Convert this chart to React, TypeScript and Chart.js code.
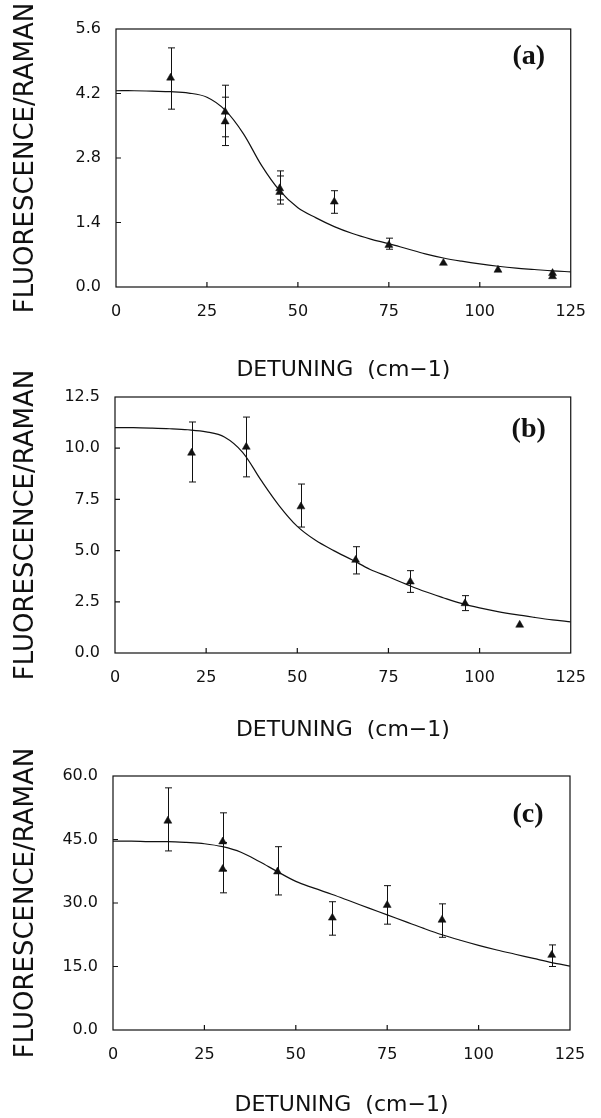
import React, { useEffect, useRef } from "react";
import { Chart, registerables } from "chart.js";

Chart.register(...registerables);

// ---------- data ----------
const curveX = [0, 5, 10, 15, 20, 25, 30, 35, 40, 45, 50, 55, 60, 65, 70, 75, 80, 85, 90, 95, 100, 105, 110, 115, 120, 125];

const curveA = [4.26, 4.26, 4.25, 4.24, 4.21, 4.12, 3.84, 3.33, 2.64, 2.09, 1.72, 1.5, 1.31, 1.16, 1.04, 0.94, 0.83, 0.72, 0.63, 0.56, 0.5, 0.45, 0.41, 0.38, 0.35, 0.33];
const curveB = [11.0, 11.0, 10.98, 10.95, 10.9, 10.8, 10.55, 9.8, 8.45, 7.2, 6.18, 5.5, 5.0, 4.55, 4.08, 3.72, 3.35, 3.0, 2.7, 2.42, 2.2, 2.02, 1.87, 1.74, 1.62, 1.52];
const curveC = [44.6, 44.6, 44.5, 44.5, 44.3, 44.0, 43.3, 42.0, 39.8, 37.4, 35.1, 33.5, 32.0, 30.4, 28.8, 27.2, 25.6, 24.0, 22.5, 21.2, 20.0, 18.9, 17.9, 16.9, 15.9, 15.1];

const ptsAx = [15, 30, 30, 45, 45, 60, 75, 90, 105, 120, 120];
const ptsAy = [4.54, 3.8, 3.59, 2.14, 2.06, 1.85, 0.91, 0.52, 0.37, 0.3, 0.23];
const errAlo = [3.86, 3.26, 3.07, 1.89, 1.8, 1.6, 0.82, null, null, null, null];
const errAhi = [5.19, 4.38, 4.12, 2.52, 2.41, 2.09, 1.06, null, null, null, null];

const ptsBx = [21, 36, 51, 66, 81, 96, 111];
const ptsBy = [9.77, 10.06, 7.15, 4.54, 3.48, 2.42, 1.37];
const errBlo = [8.35, 8.6, 6.15, 3.86, 2.96, 2.07, null];
const errBhi = [11.28, 11.52, 8.25, 5.19, 4.02, 2.8, null];

const ptsCx = [15, 30, 30, 45, 60, 75, 90, 120];
const ptsCy = [49.4, 44.5, 38.0, 37.4, 26.5, 29.5, 26.0, 17.7];
const errClo = [42.3, 37.7, 32.4, 31.9, 22.4, 25.0, 21.9, 15.0];
const errChi = [57.2, 51.3, 44.3, 43.3, 30.3, 34.1, 29.8, 20.1];

const xTicks = [0, 25, 50, 75, 100, 125];
const yTicksA = [0, 1.4, 2.8, 4.2, 5.6];
const yTicksB = [0, 2.5, 5.0, 7.5, 10.0, 12.5];
const yTicksC = [0, 15, 30, 45, 60];

const yTitle = "FLUORESCENCE/RAMAN";
const xTitle = "DETUNING  (cm\u22121)";

const INK = "#111";
const W = 601;
const H = 1118;

const framePlugin = {
  id: "frame",
  beforeDatasetsDraw(chart: any, _args: any, opts: any) {
    const { ctx, chartArea: a, scales } = chart;
    ctx.save();
    ctx.strokeStyle = INK;
    ctx.lineWidth = 1.2;
    ctx.strokeRect(a.left, a.top, a.right - a.left, a.bottom - a.top);
    // inward ticks
    ctx.beginPath();
    (opts.xTicks || []).forEach((v: number, i: number, arr: number[]) => {
      if (i === 0 || i === arr.length - 1) return;
      const px = scales.x.getPixelForValue(v);
      ctx.moveTo(px, a.bottom);
      ctx.lineTo(px, a.bottom - 5);
    });
    (opts.yTicks || []).forEach((v: number, i: number, arr: number[]) => {
      if (i === 0 || i === arr.length - 1) return;
      const py = scales.y.getPixelForValue(v);
      ctx.moveTo(a.left, py);
      ctx.lineTo(a.left + 5, py);
    });
    ctx.stroke();
    // error bars
    ctx.lineWidth = 1;
    ctx.beginPath();
    const xs = opts.px || [];
    xs.forEach((xv: number, i: number) => {
      const lo = opts.lo[i];
      const hi = opts.hi[i];
      if (lo == null || hi == null) return;
      const px = Math.round(scales.x.getPixelForValue(xv)) + 0.5;
      const pl = scales.y.getPixelForValue(lo);
      const ph = scales.y.getPixelForValue(hi);
      ctx.moveTo(px, pl);
      ctx.lineTo(px, ph);
      ctx.moveTo(px - 3.5, pl);
      ctx.lineTo(px + 3.5, pl);
      ctx.moveTo(px - 3.5, ph);
      ctx.lineTo(px + 3.5, ph);
    });
    ctx.stroke();
    ctx.restore();
  },
  afterDatasetsDraw(chart: any, _args: any, opts: any) {
    const { ctx, chartArea: a } = chart;
    if (!opts.label) return;
    ctx.save();
    ctx.fillStyle = INK;
    ctx.font = "bold 28px 'Liberation Serif', 'Times New Roman', serif";
    ctx.textAlign = "center";
    ctx.textBaseline = "middle";
    ctx.fillText(opts.label, a.right - 42, a.top + opts.labelDy);
    ctx.restore();
  },
};

type PanelProps = {
  padTop: number;
  padBottom: number;
  padRight: number;
  yW: number;
  xH: number;
  titlePadBottom: number;
  curve: number[];
  px: number[];
  py: number[];
  lo: (number | null)[];
  hi: (number | null)[];
  yTicks: number[];
  label: string;
  labelDy: number;
};

function Panel(p: PanelProps) {
  const ref = useRef<HTMLCanvasElement | null>(null);
  useEffect(() => {
    if (!ref.current) return;
    const yMax = p.yTicks[p.yTicks.length - 1];
    const chart = new Chart(ref.current, {
      type: "scatter",
      data: {
        datasets: [
          {
            label: "fit",
            data: curveX.map((x, i) => ({ x, y: p.curve[i] })),
            showLine: true,
            borderColor: INK,
            borderWidth: 1.2,
            pointRadius: 0,
            tension: 0.35,
            fill: false,
          } as any,
          {
            label: "data",
            data: p.px.map((x, i) => ({ x, y: p.py[i] })),
            pointStyle: "triangle",
            pointRadius: 4.6,
            backgroundColor: INK,
            borderColor: INK,
            borderWidth: 0.5,
          } as any,
        ],
      },
      options: {
        animation: false,
        responsive: false,
        layout: { padding: { top: p.padTop, right: p.padRight, left: 0, bottom: p.padBottom } },
        plugins: {
          legend: { display: false },
          tooltip: { enabled: false },
          frame: { xTicks, yTicks: p.yTicks, px: p.px, lo: p.lo, hi: p.hi, label: p.label, labelDy: p.labelDy },
        } as any,
        scales: {
          x: {
            type: "linear",
            min: 0,
            max: 125,
            grid: { display: false, drawTicks: false },
            border: { display: false },
            afterBuildTicks: (s: any) => {
              s.ticks = xTicks.map((v) => ({ value: v }));
            },
            afterFit: (s: any) => {
              s.height = p.xH;
            },
            ticks: {
              color: INK,
              padding: 15,
              maxRotation: 0,
              font: { family: "'DejaVu Sans', sans-serif", size: 16 },
              callback: (v: any) => String(v),
            },
            title: {
              display: true,
              text: xTitle,
              color: INK,
              font: { family: "'DejaVu Sans', sans-serif", size: 22 },
              padding: { top: 0, bottom: p.titlePadBottom },
            },
          },
          y: {
            type: "linear",
            min: 0,
            max: yMax,
            grid: { display: false, drawTicks: false },
            border: { display: false },
            afterBuildTicks: (s: any) => {
              s.ticks = p.yTicks.map((v) => ({ value: v }));
            },
            afterFit: (s: any) => {
              s.width = p.yW;
            },
            ticks: {
              color: INK,
              padding: 15,
              font: { family: "'DejaVu Sans', sans-serif", size: 16 },
              callback: (v: any) => Number(v).toFixed(1),
            },
            title: {
              display: true,
              text: yTitle,
              color: INK,
              font: { family: "'DejaVu Sans', sans-serif", size: 26 },
              padding: { top: 11, bottom: 0 },
            },
          },
        },
      },
      plugins: [framePlugin as any],
    });
    return () => chart.destroy();
  }, []);
  return (
    <canvas
      ref={ref}
      width={W}
      height={H}
      style={{ position: "absolute", left: 0, top: 0, width: W, height: H, display: "block" }}
    />
  );
}

export default function App() {
  return (
    <div style={{ position: "absolute", left: 0, top: 0, width: W, height: H, background: "#fff", overflow: "hidden" }}>
      <Panel padTop={29} padBottom={H - 385} padRight={28} yW={116} xH={98} titlePadBottom={2}
        curve={curveA} px={ptsAx} py={ptsAy} lo={errAlo} hi={errAhi} yTicks={yTicksA} label="(a)" labelDy={28} />
      <Panel padTop={397} padBottom={H - 745} padRight={29} yW={115} xH={92} titlePadBottom={2}
        curve={curveB} px={ptsBx} py={ptsBy} lo={errBlo} hi={errBhi} yTicks={yTicksB} label="(b)" labelDy={33} />
      <Panel padTop={776} padBottom={0} padRight={31} yW={113} xH={88} titlePadBottom={0}
        curve={curveC} px={ptsCx} py={ptsCy} lo={errClo} hi={errChi} yTicks={yTicksC} label="(c)" labelDy={39} />
    </div>
  );
}
